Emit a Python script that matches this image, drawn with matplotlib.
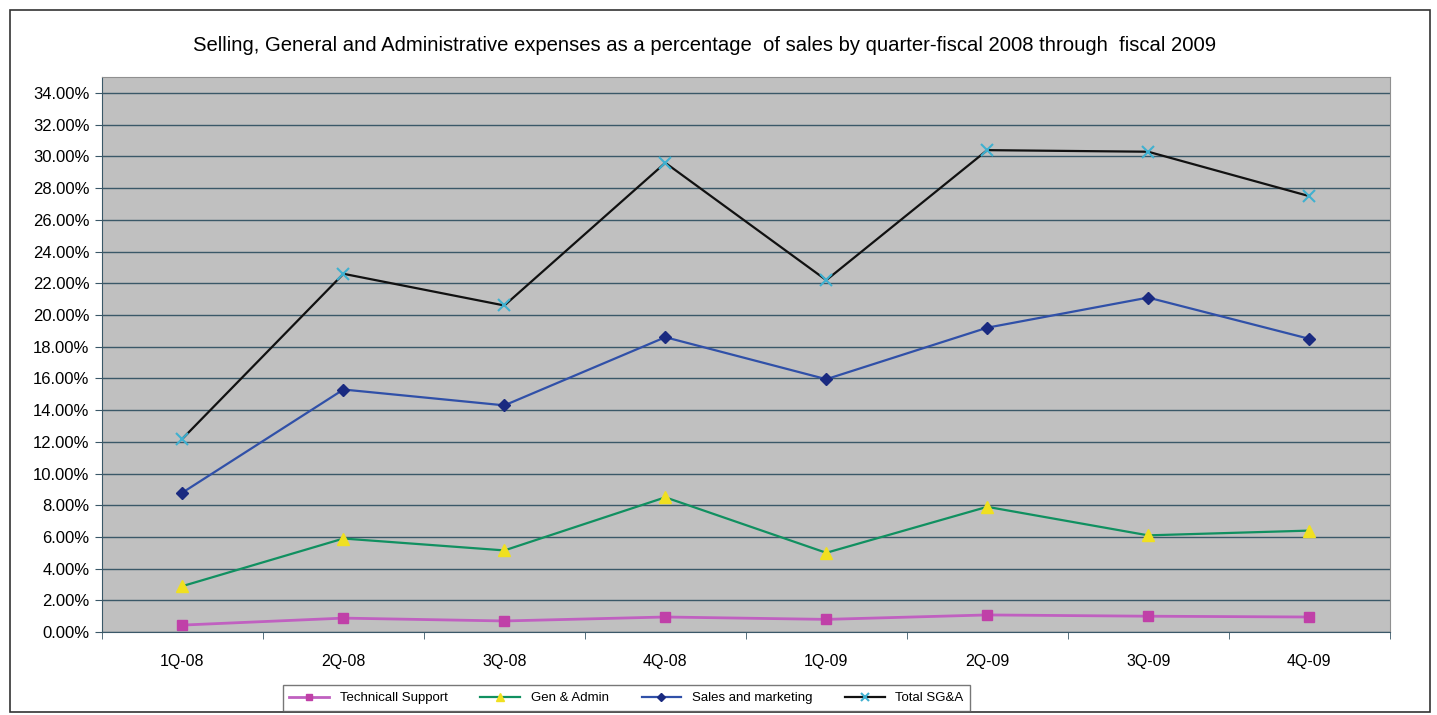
import matplotlib
matplotlib.use('Agg')
import matplotlib.pyplot as plt
from matplotlib.ticker import FixedLocator, FuncFormatter
from matplotlib.patches import Rectangle

plt.rcParams['font.family'] = ['Liberation Sans', 'DejaVu Sans']

# データ
quarters = ['1Q-08', '2Q-08', '3Q-08', '4Q-08', '1Q-09', '2Q-09', '3Q-09', '4Q-09']
tech_support = [0.44, 0.88, 0.70, 0.95, 0.80, 1.08, 1.00, 0.95]
gen_admin = [2.9, 5.9, 5.15, 8.5, 5.0, 7.9, 6.1, 6.4]
sales_marketing = [8.8, 15.3, 14.3, 18.6, 15.95, 19.2, 21.1, 18.5]
total_sga = [12.2, 22.6, 20.6, 29.6, 22.2, 30.4, 30.3, 27.5]

fig = plt.figure(figsize=(14.37, 7.15), dpi=100)
fig.patch.set_facecolor('white')

# 外枠
fig.patches.append(Rectangle((0.007, 0.004), 0.988, 0.982, transform=fig.transFigure,
                             fill=False, edgecolor='#333333', linewidth=1.2))

ax = fig.add_axes([0.071, 0.116, 0.896, 0.776])
ax.set_facecolor('#c0c0c0')
x = range(len(quarters))

ax.plot(x, tech_support, color='#c060c0', linewidth=2, marker='s', markersize=7,
        markerfacecolor='#c040a8', markeredgecolor='#c040a8', label='Technicall Support')
ax.plot(x, gen_admin, color='#109060', linewidth=1.6, marker='^', markersize=8,
        markerfacecolor='#f0e020', markeredgecolor='#f0e020', label='Gen & Admin')
ax.plot(x, sales_marketing, color='#3050a8', linewidth=1.6, marker='D', markersize=6,
        markerfacecolor='#1a2a80', markeredgecolor='#1a2a80', label='Sales and marketing')
ax.plot(x, total_sga, color='#111111', linewidth=1.6, marker='x', markersize=8,
        markeredgecolor='#40b0d0', markeredgewidth=1.5, label='Total SG&A')

ax.set_xlim(-0.5, len(quarters) - 0.5)
ax.set_ylim(0, 35)
ax.yaxis.set_major_locator(FixedLocator(list(range(0, 35, 2))))
ax.yaxis.set_major_formatter(FuncFormatter(lambda v, p: f'{v:.2f}%'))
ax.grid(axis='y', color='#3a5868', linewidth=1)
ax.set_axisbelow(True)

ax.set_xticks(list(x))
ax.set_xticklabels(quarters)
ax.set_xticks([i + 0.5 for i in range(-1, len(quarters))], minor=True)
ax.tick_params(axis='x', which='major', length=0, pad=16, labelsize=11.5)
ax.tick_params(axis='x', which='minor', length=5, color='#3a5868')
ax.tick_params(axis='y', length=5, color='#3a5868', labelsize=12, pad=4)

for s in ['top', 'right']:
    ax.spines[s].set_color('#909090')
for s in ['left', 'bottom']:
    ax.spines[s].set_color('#3a5868')

fig.text(0.490, 0.936, 'Selling, General and Administrative expenses as a percentage  of sales by quarter-fiscal 2008 through  fiscal 2009',
         ha='center', va='center', fontsize=14.6)

leg = fig.legend(loc='center', bbox_to_anchor=(0.436, 0.0235), ncol=4, fontsize=9.5,
                 frameon=True, fancybox=False, edgecolor='#555555', borderpad=0.5,
                 columnspacing=2.5, handlelength=3, markerscale=0.7)
leg.get_frame().set_linewidth(1)

plt.savefig('out.png', dpi=100)
plt.close()
